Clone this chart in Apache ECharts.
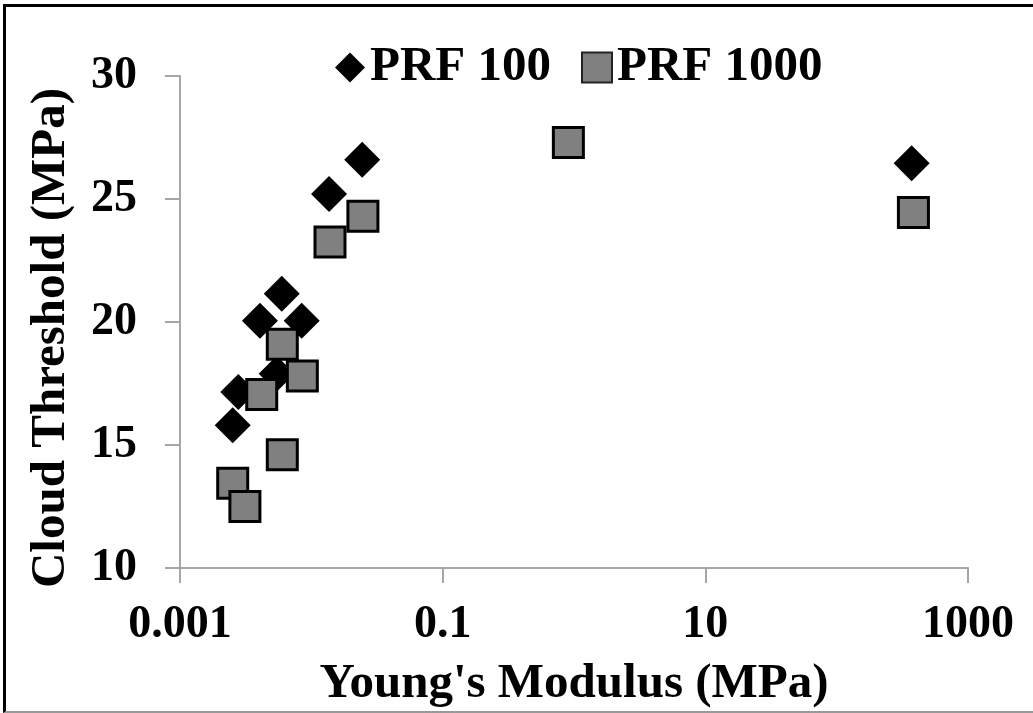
<!DOCTYPE html>
<html>
<head>
<meta charset="utf-8">
<script src="https://cdn.jsdelivr.net/npm/echarts@6/dist/echarts.min.js"></script>
<style>
html,body{margin:0;padding:0;background:#fff;}
#wrap{position:relative;width:1033px;height:713px;overflow:hidden;}
#frame{position:absolute;left:3px;top:4px;width:1040px;height:704px;border-left:3px solid #000;border-top:3px solid #000;border-bottom:2px solid #999;}
#chart{position:absolute;left:0;top:0;width:1033px;height:713px;}
</style>
</head>
<body>
<div id="wrap"><div id="frame"></div><div id="chart"></div></div>
<script>
// PRF 100 (diamonds): Young's modulus (MPa), cloud threshold (MPa)
var prf100X = [0.00252, 0.00278, 0.00406, 0.00545, 0.00595, 0.00844, 0.01364, 0.0244, 372];
var prf100Y = [15.8, 17.15, 20.05, 17.9, 21.15, 20.05, 25.2, 26.6, 26.45];
// PRF 1000 (squares)
var prf1000X = [0.00252, 0.00312, 0.00419, 0.00601, 0.00601, 0.00854, 0.01387, 0.0247, 0.906, 384];
var prf1000Y = [13.45, 12.5, 17.05, 14.6, 19.1, 17.8, 23.25, 24.3, 27.3, 24.45];
var xTicks = [0.001, 0.1, 10, 1000];
var yTicks = [10, 15, 20, 25, 30];

function pairs(xs, ys){ return xs.map(function(x,i){ return [x, ys[i]]; }); }

var font = '"Liberation Serif", "Times New Roman", serif';
var axisCol = '#a6a6a6';
var chart = echarts.init(document.getElementById('chart'), null, {renderer:'canvas'});
chart.setOption({
  backgroundColor: 'transparent',
  animation: false,
  textStyle: {fontFamily: font},
  grid: {left: 180, right: 65, top: 76, bottom: 145, containLabel: false, outerBoundsMode: 'none'},
  legend: {
    top: 38, left: 330,
    itemWidth: 30, itemHeight: 30, itemGap: 30,
    textStyle: {fontFamily: font, fontWeight: 'bold', fontSize: 49, color: '#000'},
    data: [
      {name: 'PRF 100', icon: 'diamond', itemStyle: {color:'#000'}},
      {name: 'PRF 1000', icon: 'rect', itemStyle: {color:'#808080', borderColor:'#222', borderWidth:2}}
    ]
  },
  xAxis: {
    type: 'log', logBase: 10, min: xTicks[0], max: xTicks[xTicks.length-1], interval: 2,
    name: "Young's Modulus (MPa)", nameLocation: 'middle', nameGap: 92,
    nameTextStyle: {fontFamily: font, fontWeight: 'bold', fontSize: 49, color: '#000'},
    axisLine: {show: true, lineStyle: {color: axisCol, width: 2}},
    axisTick: {show: true, length: 15, inside: false, lineStyle: {color: axisCol, width: 2}},
    minorTick: {show: false},
    splitLine: {show: false},
    axisLabel: {margin: 34, fontFamily: font, fontWeight: 'bold', fontSize: 46, color: '#000',
      formatter: function(v){ var r = Math.round(Math.log10(v)); var t = Math.pow(10, r); return r < 0 ? t.toFixed(-r) : String(t); }}
  },
  yAxis: {
    type: 'value', min: yTicks[0], max: yTicks[yTicks.length-1], interval: 5,
    name: 'Cloud Threshold (MPa)', nameLocation: 'middle', nameGap: 104,
    nameTextStyle: {fontFamily: font, fontWeight: 'bold', fontSize: 49, color: '#000', padding: [0, 32, 0, 0]},
    axisLine: {show: true, lineStyle: {color: axisCol, width: 2}},
    axisTick: {show: true, length: 15, inside: false, lineStyle: {color: axisCol, width: 2}},
    splitLine: {show: false},
    axisLabel: {margin: 43, fontFamily: font, fontWeight: 'bold', fontSize: 46, color: '#000'}
  },
  series: [
    {name: 'PRF 100', type: 'scatter', symbol: 'diamond', symbolSize: 36,
     itemStyle: {color: '#000', opacity: 1}, data: pairs(prf100X, prf100Y), z: 2},
    {name: 'PRF 1000', type: 'scatter', symbol: 'rect', symbolSize: 30,
     itemStyle: {color: '#808080', borderColor: '#000', borderWidth: 3, opacity: 1}, data: pairs(prf1000X, prf1000Y), z: 3}
  ]
});
</script>
</body>
</html>
